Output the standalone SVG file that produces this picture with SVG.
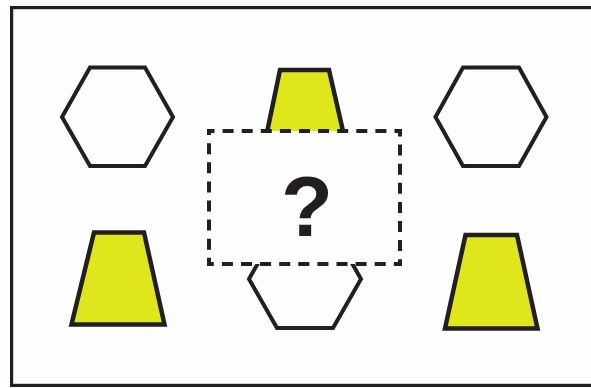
<svg xmlns="http://www.w3.org/2000/svg" width="591" height="388" viewBox="0 0 591 388">
  <defs>
    <style>
      .frame { fill: #fdfdfd; stroke: #231f20; stroke-width: 3.2; }
      .hex { fill: #fdfdfd; stroke: #231f20; stroke-width: 4; stroke-linejoin: miter; }
      .trap { fill: #dfe61c; stroke: #231f20; stroke-width: 4.5; stroke-linejoin: miter; }
      .dash { fill: #fdfdfd; stroke: #231f20; stroke-width: 4; stroke-dasharray: 11 8.1; stroke-dashoffset: 5.5; }
      .q { font-family: "Liberation Sans", Arial, sans-serif; font-weight: bold; font-size: 85px; fill: #231f20; }
    </style>
  </defs>
  <rect width="591" height="388" fill="#ffffff"/>
  <g id="frame">
    <rect class="frame" x="11.6" y="7.6" width="600" height="377.8"/>
  </g>
  <g id="hexagon-top-left">
    <polygon class="hex" points="62,117 90,67.5 145,67.5 173,117 145,166 90,166"/>
  </g>
  <g id="hexagon-top-right">
    <polygon class="hex" points="435.5,117 463,67.5 519,67.5 546.5,117 519,166 463,166"/>
  </g>
  <g id="trapezoid-bottom-left">
    <polygon class="trap" points="94,232.5 144,232.5 164.5,324.5 71.5,324.5"/>
  </g>
  <g id="trapezoid-bottom-right">
    <polygon class="trap" points="465.5,235 517,235 537.5,328.5 445,328.5"/>
  </g>
  <g id="trapezoid-top">
    <polygon class="trap" points="280,70 329,70 345.5,142 265,142"/>
  </g>
  <g id="hexagon-bottom">
    <polygon class="hex" points="249,279 277,230 333,230 361,279 333,328 277,328"/>
  </g>
  <g id="answer-box">
    <path class="dash" d="M209,131 H400 V264 H209 Z"/>
    <text class="q" x="307" y="236" text-anchor="middle">?</text>
  </g>
</svg>
